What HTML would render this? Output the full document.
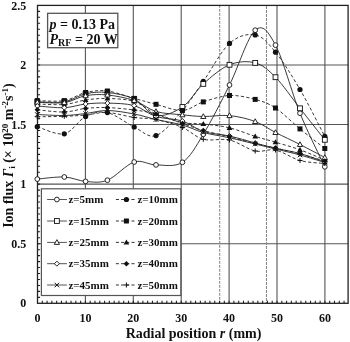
<!DOCTYPE html><html><head><meta charset="utf-8"><style>html,body{margin:0;padding:0;background:#fff;}svg{display:block;filter:grayscale(1);}text{font-family:"Liberation Serif",serif;font-weight:bold;fill:#111;}</style></head><body>
<svg width="350" height="342" viewBox="0 0 350 342">
<line x1="85.40" y1="5.4" x2="85.40" y2="303.3" stroke="#555" stroke-width="1.1"/>
<line x1="133.30" y1="5.4" x2="133.30" y2="303.3" stroke="#555" stroke-width="1.1"/>
<line x1="181.20" y1="5.4" x2="181.20" y2="303.3" stroke="#555" stroke-width="1.1"/>
<line x1="229.10" y1="5.4" x2="229.10" y2="303.3" stroke="#555" stroke-width="1.1"/>
<line x1="277.00" y1="5.4" x2="277.00" y2="303.3" stroke="#555" stroke-width="1.1"/>
<line x1="324.90" y1="5.4" x2="324.90" y2="303.3" stroke="#555" stroke-width="1.1"/>
<line x1="37.5" y1="243.72" x2="348.1" y2="243.72" stroke="#555" stroke-width="1.1"/>
<line x1="37.5" y1="184.14" x2="348.1" y2="184.14" stroke="#555" stroke-width="1.1"/>
<line x1="37.5" y1="124.56" x2="348.1" y2="124.56" stroke="#555" stroke-width="1.1"/>
<line x1="37.5" y1="64.98" x2="348.1" y2="64.98" stroke="#555" stroke-width="1.1"/>
<line x1="219.70" y1="5.4" x2="219.70" y2="303.3" stroke="#8a8a8a" stroke-width="1.1" stroke-dasharray="2.9,1.1" stroke-dashoffset="0.5"/>
<line x1="266.50" y1="5.4" x2="266.50" y2="303.3" stroke="#8a8a8a" stroke-width="1.1" stroke-dasharray="2.9,1.1" stroke-dashoffset="3.4"/>
<path d="M37.5 297.34h2.6 M37.5 291.38h2.6 M37.5 285.43h2.6 M37.5 279.47h2.6 M37.5 273.51h2.6 M37.5 267.55h2.6 M37.5 261.59h2.6 M37.5 255.64h2.6 M37.5 249.68h2.6 M37.5 243.72h2.6 M37.5 237.76h2.6 M37.5 231.80h2.6 M37.5 225.85h2.6 M37.5 219.89h2.6 M37.5 213.93h2.6 M37.5 207.97h2.6 M37.5 202.01h2.6 M37.5 196.06h2.6 M37.5 190.10h2.6 M37.5 184.14h2.6 M37.5 178.18h2.6 M37.5 172.22h2.6 M37.5 166.27h2.6 M37.5 160.31h2.6 M37.5 154.35h2.6 M37.5 148.39h2.6 M37.5 142.43h2.6 M37.5 136.48h2.6 M37.5 130.52h2.6 M37.5 124.56h2.6 M37.5 118.60h2.6 M37.5 112.64h2.6 M37.5 106.69h2.6 M37.5 100.73h2.6 M37.5 94.77h2.6 M37.5 88.81h2.6 M37.5 82.85h2.6 M37.5 76.90h2.6 M37.5 70.94h2.6 M37.5 64.98h2.6 M37.5 59.02h2.6 M37.5 53.06h2.6 M37.5 47.11h2.6 M37.5 41.15h2.6 M37.5 35.19h2.6 M37.5 29.23h2.6 M37.5 23.27h2.6 M37.5 17.32h2.6 M37.5 11.36h2.6 M42.29 303.3v-2.6 M47.08 303.3v-2.6 M51.87 303.3v-2.6 M56.66 303.3v-2.6 M61.45 303.3v-2.6 M66.24 303.3v-2.6 M71.03 303.3v-2.6 M75.82 303.3v-2.6 M80.61 303.3v-2.6 M85.40 303.3v-2.6 M90.19 303.3v-2.6 M94.98 303.3v-2.6 M99.77 303.3v-2.6 M104.56 303.3v-2.6 M109.35 303.3v-2.6 M114.14 303.3v-2.6 M118.93 303.3v-2.6 M123.72 303.3v-2.6 M128.51 303.3v-2.6 M133.30 303.3v-2.6 M138.09 303.3v-2.6 M142.88 303.3v-2.6 M147.67 303.3v-2.6 M152.46 303.3v-2.6 M157.25 303.3v-2.6 M162.04 303.3v-2.6 M166.83 303.3v-2.6 M171.62 303.3v-2.6 M176.41 303.3v-2.6 M181.20 303.3v-2.6 M185.99 303.3v-2.6 M190.78 303.3v-2.6 M195.57 303.3v-2.6 M200.36 303.3v-2.6 M205.15 303.3v-2.6 M209.94 303.3v-2.6 M214.73 303.3v-2.6 M219.52 303.3v-2.6 M224.31 303.3v-2.6 M229.10 303.3v-2.6 M233.89 303.3v-2.6 M238.68 303.3v-2.6 M243.47 303.3v-2.6 M248.26 303.3v-2.6 M253.05 303.3v-2.6 M257.84 303.3v-2.6 M262.63 303.3v-2.6 M267.42 303.3v-2.6 M272.21 303.3v-2.6 M277.00 303.3v-2.6 M281.79 303.3v-2.6 M286.58 303.3v-2.6 M291.37 303.3v-2.6 M296.16 303.3v-2.6 M300.95 303.3v-2.6 M305.74 303.3v-2.6 M310.53 303.3v-2.6 M315.32 303.3v-2.6 M320.11 303.3v-2.6 M324.90 303.3v-2.6 M329.69 303.3v-2.6 M334.48 303.3v-2.6 M339.27 303.3v-2.6 M344.06 303.3v-2.6" stroke="#222" stroke-width="1.1" fill="none"/>
<rect x="37.5" y="5.4" width="310.60" height="297.90" fill="none" stroke="#222" stroke-width="1.3"/>
<text x="26.3" y="307.40" font-size="12" text-anchor="end">0</text>
<text x="26.3" y="247.82" font-size="12" text-anchor="end">0.5</text>
<text x="26.3" y="188.24" font-size="12" text-anchor="end">1</text>
<text x="26.3" y="128.66" font-size="12" text-anchor="end">1.5</text>
<text x="26.3" y="69.08" font-size="12" text-anchor="end">2</text>
<text x="26.3" y="9.50" font-size="12" text-anchor="end">2.5</text>
<text x="37.50" y="321.8" font-size="12" text-anchor="middle">0</text>
<text x="85.40" y="321.8" font-size="12" text-anchor="middle">10</text>
<text x="133.30" y="321.8" font-size="12" text-anchor="middle">20</text>
<text x="181.20" y="321.8" font-size="12" text-anchor="middle">30</text>
<text x="229.10" y="321.8" font-size="12" text-anchor="middle">40</text>
<text x="277.00" y="321.8" font-size="12" text-anchor="middle">50</text>
<text x="324.90" y="321.8" font-size="12" text-anchor="middle">60</text>
<text x="193.5" y="337.8" font-size="14" text-anchor="middle">Radial position <tspan font-style="italic">r</tspan> (mm)</text>
<text transform="translate(12.9,155.6) rotate(-90)" font-size="14" text-anchor="middle">Ion flux <tspan font-style="italic">Γ</tspan><tspan font-size="9" dy="2.5">i</tspan><tspan dy="-2.5"> (× 10</tspan><tspan font-size="9" dy="-5">20</tspan><tspan dy="5"> m</tspan><tspan font-size="9" dy="-5">-2</tspan><tspan dy="5">s</tspan><tspan font-size="9" dy="-5">-1</tspan><tspan dy="5">)</tspan></text>
<path d="M37.30 179.10C41.80 178.75 56.25 176.62 64.30 177.00C72.35 177.38 78.42 180.87 85.60 181.40C92.78 181.93 99.30 183.43 107.40 180.20C115.50 176.97 126.10 164.55 134.20 162.00C142.30 159.45 147.97 164.85 156.00 164.90C164.03 164.95 174.52 167.40 182.40 162.30C190.28 157.20 195.45 147.18 203.30 134.30C211.15 121.42 220.85 102.35 229.50 85.00C238.15 67.65 247.53 36.85 255.20 30.20C262.87 23.55 268.03 31.27 275.50 45.10C282.97 58.93 291.78 92.92 300.00 113.20C308.22 133.48 320.67 157.87 324.80 166.80" fill="none" stroke="#222" stroke-width="0.9"/>
<path d="M37.30 126.70C41.80 127.88 56.25 135.50 64.30 133.80C72.35 132.10 78.42 120.03 85.60 116.50C92.78 112.97 99.30 110.85 107.40 112.60C115.50 114.35 126.10 123.17 134.20 127.00C142.30 130.83 147.97 138.35 156.00 135.60C164.03 132.85 174.52 119.53 182.40 110.50C190.28 101.47 195.45 92.58 203.30 81.40C211.15 70.22 220.85 51.15 229.50 43.40C238.15 35.65 247.53 33.43 255.20 34.90C262.87 36.37 268.03 43.10 275.50 52.20C282.97 61.30 291.78 75.47 300.00 89.50C308.22 103.53 320.67 128.58 324.80 136.40" fill="none" stroke="#222" stroke-width="0.9" stroke-dasharray="3.2,2.2"/>
<path d="M37.30 101.80C41.80 101.80 56.25 103.13 64.30 101.80C72.35 100.47 78.42 95.35 85.60 93.80C92.78 92.25 99.30 91.63 107.40 92.50C115.50 93.37 126.10 95.17 134.20 99.00C142.30 102.83 147.97 114.17 156.00 115.50C164.03 116.83 174.52 112.27 182.40 107.00C190.28 101.73 195.45 90.93 203.30 83.90C211.15 76.87 220.85 68.30 229.50 64.80C238.15 61.30 247.53 60.83 255.20 62.90C262.87 64.97 268.03 69.63 275.50 77.20C282.97 84.77 291.78 97.87 300.00 108.30C308.22 118.73 320.67 134.55 324.80 139.80" fill="none" stroke="#222" stroke-width="0.9"/>
<path d="M37.30 100.60C41.80 100.60 56.25 101.95 64.30 100.60C72.35 99.25 78.42 94.10 85.60 92.50C92.78 90.90 99.30 90.02 107.40 91.00C115.50 91.98 126.10 96.18 134.20 98.40C142.30 100.62 147.97 102.28 156.00 104.30C164.03 106.32 174.52 110.90 182.40 110.50C190.28 110.10 195.45 104.40 203.30 101.90C211.15 99.40 220.85 95.92 229.50 95.50C238.15 95.08 247.53 97.32 255.20 99.40C262.87 101.48 268.03 103.08 275.50 108.00C282.97 112.92 291.78 122.15 300.00 128.90C308.22 135.65 320.67 145.23 324.80 148.50" fill="none" stroke="#222" stroke-width="0.9" stroke-dasharray="3.2,2.2"/>
<path d="M37.30 104.00C41.80 104.08 56.25 105.17 64.30 104.50C72.35 103.83 78.42 101.00 85.60 100.00C92.78 99.00 99.30 98.25 107.40 98.50C115.50 98.75 126.10 98.92 134.20 101.50C142.30 104.08 147.97 110.50 156.00 114.00C164.03 117.50 174.52 120.83 182.40 122.50C190.28 124.17 195.45 123.12 203.30 124.00C211.15 124.88 220.85 125.73 229.50 127.80C238.15 129.87 247.53 134.00 255.20 136.40C262.87 138.80 268.03 139.97 275.50 142.20C282.97 144.43 291.78 146.83 300.00 149.80C308.22 152.77 320.67 158.30 324.80 160.00" fill="none" stroke="#222" stroke-width="0.9" stroke-dasharray="3.2,2.2"/>
<path d="M37.30 102.20C41.80 102.27 56.25 103.68 64.30 102.60C72.35 101.52 78.42 96.97 85.60 95.70C92.78 94.43 99.30 94.20 107.40 95.00C115.50 95.80 126.10 97.75 134.20 100.50C142.30 103.25 147.97 109.12 156.00 111.50C164.03 113.88 174.52 113.97 182.40 114.80C190.28 115.63 195.45 116.37 203.30 116.50C211.15 116.63 220.85 114.77 229.50 115.60C238.15 116.43 247.53 118.68 255.20 121.50C262.87 124.32 268.03 128.67 275.50 132.50C282.97 136.33 291.78 140.33 300.00 144.50C308.22 148.67 320.67 155.33 324.80 157.50" fill="none" stroke="#222" stroke-width="0.9"/>
<path d="M37.30 106.00C41.80 106.28 56.25 108.03 64.30 107.70C72.35 107.37 78.42 104.77 85.60 104.00C92.78 103.23 99.30 102.83 107.40 103.10C115.50 103.37 126.10 103.37 134.20 105.60C142.30 107.83 147.97 113.93 156.00 116.50C164.03 119.07 174.52 118.50 182.40 121.00C190.28 123.50 195.45 129.00 203.30 131.50C211.15 134.00 220.85 134.08 229.50 136.00C238.15 137.92 247.53 140.95 255.20 143.00C262.87 145.05 268.03 146.55 275.50 148.30C282.97 150.05 291.78 151.22 300.00 153.50C308.22 155.78 320.67 160.58 324.80 162.00" fill="none" stroke="#222" stroke-width="0.9"/>
<path d="M37.30 109.80C41.80 110.17 56.25 112.23 64.30 112.00C72.35 111.77 78.42 109.13 85.60 108.40C92.78 107.67 99.30 107.33 107.40 107.60C115.50 107.87 126.10 108.93 134.20 110.00C142.30 111.07 147.97 111.75 156.00 114.00C164.03 116.25 174.52 120.75 182.40 123.50C190.28 126.25 195.45 128.28 203.30 130.50C211.15 132.72 220.85 134.62 229.50 136.80C238.15 138.98 247.53 141.73 255.20 143.60C262.87 145.47 268.03 146.27 275.50 148.00C282.97 149.73 291.78 151.83 300.00 154.00C308.22 156.17 320.67 159.83 324.80 161.00" fill="none" stroke="#222" stroke-width="0.9" stroke-dasharray="3.2,2.2"/>
<path d="M37.30 114.50C41.80 114.67 56.25 115.67 64.30 115.50C72.35 115.33 78.42 114.33 85.60 113.50C92.78 112.67 99.30 110.42 107.40 110.50C115.50 110.58 126.10 112.50 134.20 114.00C142.30 115.50 147.97 117.67 156.00 119.50C164.03 121.33 174.52 122.83 182.40 125.00C190.28 127.17 195.45 130.37 203.30 132.50C211.15 134.63 220.85 135.88 229.50 137.80C238.15 139.72 247.53 142.13 255.20 144.00C262.87 145.87 268.03 147.17 275.50 149.00C282.97 150.83 291.78 152.75 300.00 155.00C308.22 157.25 320.67 161.25 324.80 162.50" fill="none" stroke="#222" stroke-width="0.9"/>
<path d="M37.30 116.80C41.80 116.72 56.25 116.60 64.30 116.30C72.35 116.00 78.42 115.63 85.60 115.00C92.78 114.37 99.30 112.08 107.40 112.50C115.50 112.92 126.10 116.33 134.20 117.50C142.30 118.67 147.97 117.83 156.00 119.50C164.03 121.17 174.52 124.20 182.40 127.50C190.28 130.80 195.45 137.22 203.30 139.30C211.15 141.38 220.85 138.05 229.50 140.00C238.15 141.95 247.53 149.33 255.20 151.00C262.87 152.67 268.03 148.42 275.50 150.00C282.97 151.58 291.78 158.25 300.00 160.50C308.22 162.75 320.67 163.00 324.80 163.50" fill="none" stroke="#222" stroke-width="0.9" stroke-dasharray="3.2,2.2"/>
<circle cx="37.30" cy="179.10" r="2.38" fill="#fff" stroke="#111" stroke-width="0.9"/>
<circle cx="64.30" cy="177.00" r="2.38" fill="#fff" stroke="#111" stroke-width="0.9"/>
<circle cx="85.60" cy="181.40" r="2.38" fill="#fff" stroke="#111" stroke-width="0.9"/>
<circle cx="107.40" cy="180.20" r="2.38" fill="#fff" stroke="#111" stroke-width="0.9"/>
<circle cx="134.20" cy="162.00" r="2.38" fill="#fff" stroke="#111" stroke-width="0.9"/>
<circle cx="156.00" cy="164.90" r="2.38" fill="#fff" stroke="#111" stroke-width="0.9"/>
<circle cx="182.40" cy="162.30" r="2.38" fill="#fff" stroke="#111" stroke-width="0.9"/>
<circle cx="203.30" cy="134.30" r="2.38" fill="#fff" stroke="#111" stroke-width="0.9"/>
<circle cx="229.50" cy="85.00" r="2.38" fill="#fff" stroke="#111" stroke-width="0.9"/>
<circle cx="255.20" cy="30.20" r="2.38" fill="#fff" stroke="#111" stroke-width="0.9"/>
<circle cx="275.50" cy="45.10" r="2.38" fill="#fff" stroke="#111" stroke-width="0.9"/>
<circle cx="300.00" cy="113.20" r="2.38" fill="#fff" stroke="#111" stroke-width="0.9"/>
<circle cx="324.80" cy="166.80" r="2.38" fill="#fff" stroke="#111" stroke-width="0.9"/>
<circle cx="37.30" cy="126.70" r="2.62" fill="#111"/>
<circle cx="64.30" cy="133.80" r="2.62" fill="#111"/>
<circle cx="85.60" cy="116.50" r="2.62" fill="#111"/>
<circle cx="107.40" cy="112.60" r="2.62" fill="#111"/>
<circle cx="134.20" cy="127.00" r="2.62" fill="#111"/>
<circle cx="156.00" cy="135.60" r="2.62" fill="#111"/>
<circle cx="182.40" cy="110.50" r="2.62" fill="#111"/>
<circle cx="203.30" cy="81.40" r="2.62" fill="#111"/>
<circle cx="229.50" cy="43.40" r="2.62" fill="#111"/>
<circle cx="255.20" cy="34.90" r="2.62" fill="#111"/>
<circle cx="275.50" cy="52.20" r="2.62" fill="#111"/>
<circle cx="300.00" cy="89.50" r="2.62" fill="#111"/>
<circle cx="324.80" cy="136.40" r="2.62" fill="#111"/>
<rect x="34.88" y="99.38" width="4.85" height="4.85" fill="#fff" stroke="#111" stroke-width="0.9"/>
<rect x="61.88" y="99.38" width="4.85" height="4.85" fill="#fff" stroke="#111" stroke-width="0.9"/>
<rect x="83.17" y="91.38" width="4.85" height="4.85" fill="#fff" stroke="#111" stroke-width="0.9"/>
<rect x="104.98" y="90.08" width="4.85" height="4.85" fill="#fff" stroke="#111" stroke-width="0.9"/>
<rect x="131.77" y="96.58" width="4.85" height="4.85" fill="#fff" stroke="#111" stroke-width="0.9"/>
<rect x="153.57" y="113.08" width="4.85" height="4.85" fill="#fff" stroke="#111" stroke-width="0.9"/>
<rect x="179.97" y="104.58" width="4.85" height="4.85" fill="#fff" stroke="#111" stroke-width="0.9"/>
<rect x="200.88" y="81.48" width="4.85" height="4.85" fill="#fff" stroke="#111" stroke-width="0.9"/>
<rect x="227.07" y="62.38" width="4.85" height="4.85" fill="#fff" stroke="#111" stroke-width="0.9"/>
<rect x="252.77" y="60.48" width="4.85" height="4.85" fill="#fff" stroke="#111" stroke-width="0.9"/>
<rect x="273.07" y="74.78" width="4.85" height="4.85" fill="#fff" stroke="#111" stroke-width="0.9"/>
<rect x="297.57" y="105.88" width="4.85" height="4.85" fill="#fff" stroke="#111" stroke-width="0.9"/>
<rect x="322.38" y="137.38" width="4.85" height="4.85" fill="#fff" stroke="#111" stroke-width="0.9"/>
<rect x="34.80" y="98.10" width="5.00" height="5.00" fill="#111"/>
<rect x="61.80" y="98.10" width="5.00" height="5.00" fill="#111"/>
<rect x="83.10" y="90.00" width="5.00" height="5.00" fill="#111"/>
<rect x="104.90" y="88.50" width="5.00" height="5.00" fill="#111"/>
<rect x="131.70" y="95.90" width="5.00" height="5.00" fill="#111"/>
<rect x="153.50" y="101.80" width="5.00" height="5.00" fill="#111"/>
<rect x="179.90" y="108.00" width="5.00" height="5.00" fill="#111"/>
<rect x="200.80" y="99.40" width="5.00" height="5.00" fill="#111"/>
<rect x="227.00" y="93.00" width="5.00" height="5.00" fill="#111"/>
<rect x="252.70" y="96.90" width="5.00" height="5.00" fill="#111"/>
<rect x="273.00" y="105.50" width="5.00" height="5.00" fill="#111"/>
<rect x="297.50" y="126.40" width="5.00" height="5.00" fill="#111"/>
<rect x="322.30" y="146.00" width="5.00" height="5.00" fill="#111"/>
<path d="M37.30 101.00L40.17 106.12L34.42 106.12Z" fill="#111"/>
<path d="M64.30 101.50L67.17 106.62L61.42 106.62Z" fill="#111"/>
<path d="M85.60 97.00L88.47 102.12L82.72 102.12Z" fill="#111"/>
<path d="M107.40 95.50L110.28 100.62L104.53 100.62Z" fill="#111"/>
<path d="M134.20 98.50L137.07 103.62L131.32 103.62Z" fill="#111"/>
<path d="M156.00 111.00L158.88 116.12L153.12 116.12Z" fill="#111"/>
<path d="M182.40 119.50L185.28 124.62L179.53 124.62Z" fill="#111"/>
<path d="M203.30 121.00L206.18 126.12L200.43 126.12Z" fill="#111"/>
<path d="M229.50 124.80L232.38 129.93L226.62 129.93Z" fill="#111"/>
<path d="M255.20 133.40L258.07 138.53L252.32 138.53Z" fill="#111"/>
<path d="M275.50 139.20L278.38 144.32L272.62 144.32Z" fill="#111"/>
<path d="M300.00 146.80L302.88 151.93L297.12 151.93Z" fill="#111"/>
<path d="M324.80 157.00L327.68 162.12L321.93 162.12Z" fill="#111"/>
<path d="M37.30 99.45L39.92 104.20L34.67 104.20Z" fill="#fff" stroke="#111" stroke-width="0.9"/>
<path d="M64.30 99.85L66.92 104.60L61.67 104.60Z" fill="#fff" stroke="#111" stroke-width="0.9"/>
<path d="M85.60 92.95L88.22 97.70L82.97 97.70Z" fill="#fff" stroke="#111" stroke-width="0.9"/>
<path d="M107.40 92.25L110.03 97.00L104.78 97.00Z" fill="#fff" stroke="#111" stroke-width="0.9"/>
<path d="M134.20 97.75L136.82 102.50L131.57 102.50Z" fill="#fff" stroke="#111" stroke-width="0.9"/>
<path d="M156.00 108.75L158.62 113.50L153.38 113.50Z" fill="#fff" stroke="#111" stroke-width="0.9"/>
<path d="M182.40 112.05L185.03 116.80L179.78 116.80Z" fill="#fff" stroke="#111" stroke-width="0.9"/>
<path d="M203.30 113.75L205.93 118.50L200.68 118.50Z" fill="#fff" stroke="#111" stroke-width="0.9"/>
<path d="M229.50 112.85L232.12 117.60L226.88 117.60Z" fill="#fff" stroke="#111" stroke-width="0.9"/>
<path d="M255.20 118.75L257.82 123.50L252.57 123.50Z" fill="#fff" stroke="#111" stroke-width="0.9"/>
<path d="M275.50 129.75L278.12 134.50L272.88 134.50Z" fill="#fff" stroke="#111" stroke-width="0.9"/>
<path d="M300.00 141.75L302.62 146.50L297.38 146.50Z" fill="#fff" stroke="#111" stroke-width="0.9"/>
<path d="M324.80 154.75L327.43 159.50L322.18 159.50Z" fill="#fff" stroke="#111" stroke-width="0.9"/>
<path d="M37.30 103.50L39.80 106.00L37.30 108.50L34.80 106.00Z" fill="#fff" stroke="#111" stroke-width="0.9"/>
<path d="M64.30 105.20L66.80 107.70L64.30 110.20L61.80 107.70Z" fill="#fff" stroke="#111" stroke-width="0.9"/>
<path d="M85.60 101.50L88.10 104.00L85.60 106.50L83.10 104.00Z" fill="#fff" stroke="#111" stroke-width="0.9"/>
<path d="M107.40 100.60L109.90 103.10L107.40 105.60L104.90 103.10Z" fill="#fff" stroke="#111" stroke-width="0.9"/>
<path d="M134.20 103.10L136.70 105.60L134.20 108.10L131.70 105.60Z" fill="#fff" stroke="#111" stroke-width="0.9"/>
<path d="M156.00 114.00L158.50 116.50L156.00 119.00L153.50 116.50Z" fill="#fff" stroke="#111" stroke-width="0.9"/>
<path d="M182.40 118.50L184.90 121.00L182.40 123.50L179.90 121.00Z" fill="#fff" stroke="#111" stroke-width="0.9"/>
<path d="M203.30 129.00L205.80 131.50L203.30 134.00L200.80 131.50Z" fill="#fff" stroke="#111" stroke-width="0.9"/>
<path d="M229.50 133.50L232.00 136.00L229.50 138.50L227.00 136.00Z" fill="#fff" stroke="#111" stroke-width="0.9"/>
<path d="M255.20 140.50L257.70 143.00L255.20 145.50L252.70 143.00Z" fill="#fff" stroke="#111" stroke-width="0.9"/>
<path d="M275.50 145.80L278.00 148.30L275.50 150.80L273.00 148.30Z" fill="#fff" stroke="#111" stroke-width="0.9"/>
<path d="M300.00 151.00L302.50 153.50L300.00 156.00L297.50 153.50Z" fill="#fff" stroke="#111" stroke-width="0.9"/>
<path d="M324.80 159.50L327.30 162.00L324.80 164.50L322.30 162.00Z" fill="#fff" stroke="#111" stroke-width="0.9"/>
<path d="M37.30 107.05L40.05 109.80L37.30 112.55L34.55 109.80Z" fill="#111"/>
<path d="M64.30 109.25L67.05 112.00L64.30 114.75L61.55 112.00Z" fill="#111"/>
<path d="M85.60 105.65L88.35 108.40L85.60 111.15L82.85 108.40Z" fill="#111"/>
<path d="M107.40 104.85L110.15 107.60L107.40 110.35L104.65 107.60Z" fill="#111"/>
<path d="M134.20 107.25L136.95 110.00L134.20 112.75L131.45 110.00Z" fill="#111"/>
<path d="M156.00 111.25L158.75 114.00L156.00 116.75L153.25 114.00Z" fill="#111"/>
<path d="M182.40 120.75L185.15 123.50L182.40 126.25L179.65 123.50Z" fill="#111"/>
<path d="M203.30 127.75L206.05 130.50L203.30 133.25L200.55 130.50Z" fill="#111"/>
<path d="M229.50 134.05L232.25 136.80L229.50 139.55L226.75 136.80Z" fill="#111"/>
<path d="M255.20 140.85L257.95 143.60L255.20 146.35L252.45 143.60Z" fill="#111"/>
<path d="M275.50 145.25L278.25 148.00L275.50 150.75L272.75 148.00Z" fill="#111"/>
<path d="M300.00 151.25L302.75 154.00L300.00 156.75L297.25 154.00Z" fill="#111"/>
<path d="M324.80 158.25L327.55 161.00L324.80 163.75L322.05 161.00Z" fill="#111"/>
<path d="M35.05 112.25L39.55 116.75M39.55 112.25L35.05 116.75" stroke="#111" stroke-width="1"/>
<path d="M62.05 113.25L66.55 117.75M66.55 113.25L62.05 117.75" stroke="#111" stroke-width="1"/>
<path d="M83.35 111.25L87.85 115.75M87.85 111.25L83.35 115.75" stroke="#111" stroke-width="1"/>
<path d="M105.15 108.25L109.65 112.75M109.65 108.25L105.15 112.75" stroke="#111" stroke-width="1"/>
<path d="M131.95 111.75L136.45 116.25M136.45 111.75L131.95 116.25" stroke="#111" stroke-width="1"/>
<path d="M153.75 117.25L158.25 121.75M158.25 117.25L153.75 121.75" stroke="#111" stroke-width="1"/>
<path d="M180.15 122.75L184.65 127.25M184.65 122.75L180.15 127.25" stroke="#111" stroke-width="1"/>
<path d="M201.05 130.25L205.55 134.75M205.55 130.25L201.05 134.75" stroke="#111" stroke-width="1"/>
<path d="M227.25 135.55L231.75 140.05M231.75 135.55L227.25 140.05" stroke="#111" stroke-width="1"/>
<path d="M252.95 141.75L257.45 146.25M257.45 141.75L252.95 146.25" stroke="#111" stroke-width="1"/>
<path d="M273.25 146.75L277.75 151.25M277.75 146.75L273.25 151.25" stroke="#111" stroke-width="1"/>
<path d="M297.75 152.75L302.25 157.25M302.25 152.75L297.75 157.25" stroke="#111" stroke-width="1"/>
<path d="M322.55 160.25L327.05 164.75M327.05 160.25L322.55 164.75" stroke="#111" stroke-width="1"/>
<path d="M34.80 116.80H39.80M37.30 114.30V119.30" stroke="#111" stroke-width="1"/>
<path d="M61.80 116.30H66.80M64.30 113.80V118.80" stroke="#111" stroke-width="1"/>
<path d="M83.10 115.00H88.10M85.60 112.50V117.50" stroke="#111" stroke-width="1"/>
<path d="M104.90 112.50H109.90M107.40 110.00V115.00" stroke="#111" stroke-width="1"/>
<path d="M131.70 117.50H136.70M134.20 115.00V120.00" stroke="#111" stroke-width="1"/>
<path d="M153.50 119.50H158.50M156.00 117.00V122.00" stroke="#111" stroke-width="1"/>
<path d="M179.90 127.50H184.90M182.40 125.00V130.00" stroke="#111" stroke-width="1"/>
<path d="M200.80 139.30H205.80M203.30 136.80V141.80" stroke="#111" stroke-width="1"/>
<path d="M227.00 140.00H232.00M229.50 137.50V142.50" stroke="#111" stroke-width="1"/>
<path d="M252.70 151.00H257.70M255.20 148.50V153.50" stroke="#111" stroke-width="1"/>
<path d="M273.00 150.00H278.00M275.50 147.50V152.50" stroke="#111" stroke-width="1"/>
<path d="M297.50 160.50H302.50M300.00 158.00V163.00" stroke="#111" stroke-width="1"/>
<path d="M322.30 163.50H327.30M324.80 161.00V166.00" stroke="#111" stroke-width="1"/>
<rect x="47.6" y="13.3" width="70.2" height="34.4" fill="#fff" stroke="#555" stroke-width="1.3"/>
<text x="49.5" y="28.7" font-size="14"><tspan font-style="italic">p</tspan> = 0.13 Pa</text>
<text x="49.5" y="43.6" font-size="14"><tspan font-style="italic">P</tspan><tspan font-size="10" dy="2">RF</tspan><tspan dy="-2"> = 20 W</tspan></text>
<rect x="41.4" y="188.8" width="139.4" height="106.7" fill="#fff" stroke="#555" stroke-width="1.2"/>
<line x1="47.1" y1="199.5" x2="66.9" y2="199.5" stroke="#555" stroke-width="1"/>
<circle cx="56.90" cy="199.50" r="2.38" fill="#fff" stroke="#111" stroke-width="0.9"/>
<text x="68.4" y="203.1" font-size="11">z=5mm</text>
<line x1="115.9" y1="199.5" x2="134.6" y2="199.5" stroke="#333" stroke-width="1" stroke-dasharray="3,2.2"/>
<circle cx="126.40" cy="199.50" r="2.62" fill="#111"/>
<text x="137.4" y="203.1" font-size="11">z=10mm</text>
<line x1="47.1" y1="221.0" x2="66.9" y2="221.0" stroke="#555" stroke-width="1"/>
<rect x="54.48" y="218.57" width="4.85" height="4.85" fill="#fff" stroke="#111" stroke-width="0.9"/>
<text x="68.4" y="224.6" font-size="11">z=15mm</text>
<line x1="115.9" y1="221.0" x2="134.6" y2="221.0" stroke="#333" stroke-width="1" stroke-dasharray="3,2.2"/>
<rect x="123.90" y="218.50" width="5.00" height="5.00" fill="#111"/>
<text x="137.4" y="224.6" font-size="11">z=20mm</text>
<line x1="47.1" y1="242.4" x2="66.9" y2="242.4" stroke="#555" stroke-width="1"/>
<path d="M56.90 239.65L59.52 244.40L54.27 244.40Z" fill="#fff" stroke="#111" stroke-width="0.9"/>
<text x="68.4" y="246.0" font-size="11">z=25mm</text>
<line x1="115.9" y1="242.4" x2="134.6" y2="242.4" stroke="#333" stroke-width="1" stroke-dasharray="3,2.2"/>
<path d="M126.40 239.40L129.28 244.53L123.53 244.53Z" fill="#111"/>
<text x="137.4" y="246.0" font-size="11">z=30mm</text>
<line x1="47.1" y1="263.7" x2="66.9" y2="263.7" stroke="#555" stroke-width="1"/>
<path d="M56.90 261.20L59.40 263.70L56.90 266.20L54.40 263.70Z" fill="#fff" stroke="#111" stroke-width="0.9"/>
<text x="68.4" y="267.3" font-size="11">z=35mm</text>
<line x1="115.9" y1="263.7" x2="134.6" y2="263.7" stroke="#333" stroke-width="1" stroke-dasharray="3,2.2"/>
<path d="M126.40 260.95L129.15 263.70L126.40 266.45L123.65 263.70Z" fill="#111"/>
<text x="137.4" y="267.3" font-size="11">z=40mm</text>
<line x1="47.1" y1="285.0" x2="66.9" y2="285.0" stroke="#555" stroke-width="1"/>
<path d="M54.65 282.75L59.15 287.25M59.15 282.75L54.65 287.25" stroke="#111" stroke-width="1"/>
<text x="68.4" y="288.6" font-size="11">z=45mm</text>
<line x1="115.9" y1="285.0" x2="134.6" y2="285.0" stroke="#333" stroke-width="1" stroke-dasharray="3,2.2"/>
<path d="M123.90 285.00H128.90M126.40 282.50V287.50" stroke="#111" stroke-width="1"/>
<text x="137.4" y="288.6" font-size="11">z=50mm</text>
</svg></body></html>
